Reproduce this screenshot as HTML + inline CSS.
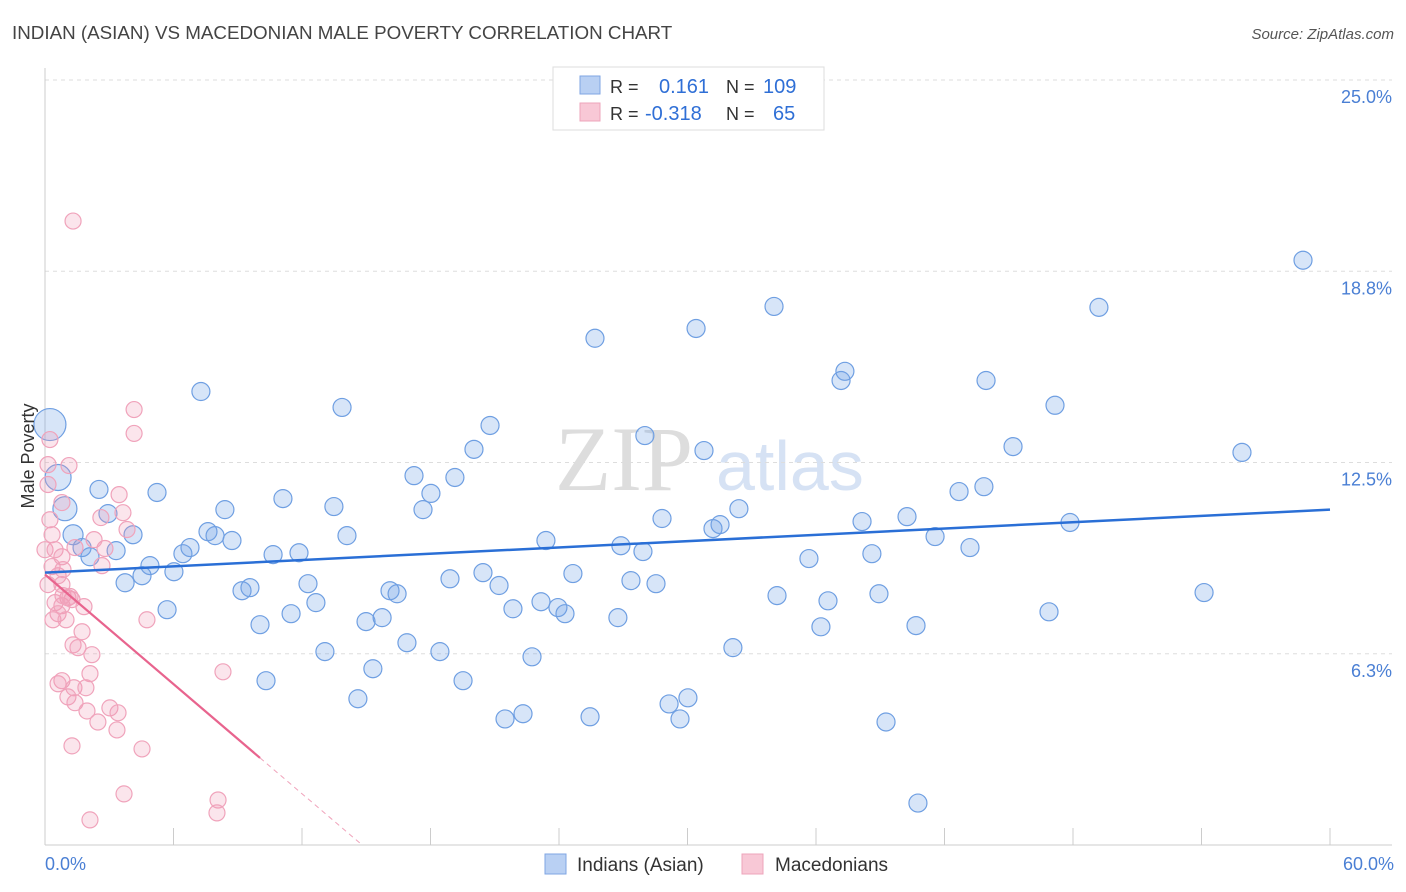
<!DOCTYPE html>
<html><head><meta charset="utf-8"><style>
body{margin:0;background:#fff;font-family:"Liberation Sans",sans-serif;}
svg{display:block}
</style></head><body>
<svg id="chart" width="1406" height="892">
<text x="12" y="39" font-size="18.8" fill="#444">INDIAN (ASIAN) VS MACEDONIAN MALE POVERTY CORRELATION CHART</text>
<text x="1394" y="39" font-size="15" fill="#555" font-style="italic" text-anchor="end">Source: ZipAtlas.com</text>
<g>
<text x="555" y="490" font-size="92" fill="#ddd" font-family="Liberation Serif,serif">ZIP</text>
<text x="716" y="490" font-size="70" fill="#d6e2f4">atlas</text>
</g>
<g id="grid"></g>
<g id="axes"></g>
<g id="points"></g>
<g id="lines"></g>
<text x="34" y="456" font-size="18" fill="#333" text-anchor="middle" transform="rotate(-90 34 456)">Male Poverty</text>
<text x="45" y="870" font-size="18" fill="#4a7fd4">0.0%</text>
<text x="1394" y="870" font-size="18" fill="#4a7fd4" text-anchor="end">60.0%</text>
<g>
<rect x="553" y="67" width="271" height="63" fill="#fff" stroke="#ddd"/>
<rect x="580" y="76" width="20" height="18" fill="#b9d0f3" stroke="#7fa6e3"/>
<rect x="580" y="103" width="20" height="18" fill="#f8c8d6" stroke="#eea4bb"/>
<text x="610" y="93" font-size="18" fill="#333">R = <tspan fill="#2f6fd6" x="659" font-size="20">0.161</tspan><tspan fill="#333" x="726">N =</tspan><tspan fill="#2f6fd6" x="763" font-size="20">109</tspan></text>
<text x="610" y="120" font-size="18" fill="#333">R = <tspan fill="#2f6fd6" x="645" font-size="20">-0.318</tspan><tspan fill="#333" x="726">N =</tspan><tspan fill="#2f6fd6" x="773" font-size="20">65</tspan></text>
</g>
<g>
<rect x="545" y="854" width="21" height="20" fill="#b9d0f3" stroke="#7fa6e3"/>
<text x="577" y="871" font-size="19" fill="#333">Indians (Asian)</text>
<rect x="742" y="854" width="21" height="20" fill="#f8c8d6" stroke="#eea4bb"/>
<text x="775" y="871" font-size="19" fill="#333">Macedonians</text>
</g>
</svg>
<script>
const yTicks=[6.25,12.5,18.75,25];
const yTickLabels=["6.3%","12.5%","18.8%","25.0%"];
const xTicks=[0,6,12,18,24,30,36,42,48,54,60];
const blueX=[0.23,0.61,0.93,1.31,1.73,2.10,2.52,2.94,3.32,3.74,4.11,4.53,4.90,5.23,5.70,6.02,6.44,6.77,7.28,7.61,7.94,8.40,8.73,9.20,9.57,10.04,10.32,10.65,11.11,11.49,11.86,12.28,12.65,13.07,13.49,13.87,14.10,14.61,14.99,15.31,15.74,16.11,16.44,16.90,17.23,17.65,18.02,18.44,18.91,19.14,19.52,20.03,20.45,20.78,21.20,21.48,21.85,22.32,22.74,23.16,23.39,23.95,24.28,24.65,25.45,25.68,26.75,26.89,27.36,27.92,28.01,28.53,28.81,29.14,29.65,30.02,30.40,30.77,31.19,31.52,32.12,32.40,34.04,34.18,35.67,36.23,36.56,37.17,37.35,38.15,38.61,38.94,39.27,40.25,40.67,40.76,41.56,42.68,43.19,43.84,43.94,45.20,46.88,47.16,47.86,49.21,54.12,55.89,58.74];
const blueY=[13.74,12.01,10.99,10.14,9.72,9.42,11.62,10.83,9.62,8.57,10.14,8.80,9.13,11.52,7.69,8.93,9.52,9.72,14.82,10.24,10.11,10.96,9.95,8.31,8.41,7.20,5.37,9.49,11.32,7.56,9.55,8.54,7.92,6.32,11.06,14.30,10.11,4.78,7.30,5.76,7.43,8.31,8.21,6.61,12.07,10.96,11.49,6.32,8.70,12.01,5.37,12.93,8.90,13.71,8.48,4.12,7.72,4.29,6.15,7.95,9.95,7.76,7.56,8.87,4.19,16.56,7.43,9.78,8.64,9.59,13.38,8.54,10.67,4.61,4.12,4.81,16.88,12.89,10.34,10.47,6.45,10.99,17.60,8.15,9.36,7.13,7.98,15.18,15.48,10.57,9.52,8.21,4.02,10.73,7.17,1.37,10.08,11.55,9.72,11.71,15.18,13.02,7.62,14.37,10.54,17.57,8.25,12.83,19.11];
const blueR=[16,13,12,10,9,9];
const pinkX=[1.31,0.23,0.14,1.12,0.14,0.79,0.23,0.33,0,0.47,0.79,0.33,0.61,0.14,0.79,1.07,0.47,0.79,1.26,1.82,0.61,0.37,0.98,1.73,1.31,1.54,2.19,2.10,0.79,0.61,1.35,1.91,1.07,1.40,1.96,2.47,3.03,3.41,3.36,1.26,4.53,3.69,2.10,8.08,8.03,8.31,4.76,4.16,4.16,3.46,3.64,2.61,3.83,2.80,2.66,2.29,0.84,0.84,1.17,1.40];
const pinkY=[20.39,13.25,12.43,12.40,11.78,11.19,10.63,10.14,9.65,9.65,9.42,9.10,8.80,8.51,8.51,8.08,7.92,7.82,8.02,7.79,7.56,7.36,7.36,6.97,6.54,6.45,6.22,5.60,5.37,5.27,5.14,5.14,4.84,4.65,4.38,4.02,4.48,4.32,3.76,3.24,3.14,1.67,0.82,1.47,1.05,5.66,7.36,14.23,13.45,11.45,10.86,10.70,10.31,9.69,9.13,9.98,9.00,8.15,8.12,9.72];
const blueFit=[8.90,10.96];
const pinkFit=[8.84,-0.597];
const pinkSolidEnd=10.04;

const NS="http://www.w3.org/2000/svg";
const sx=v=>45+v/60*1285;
const sy=v=>845-v/25*765;
function mk(tag,attrs,parent){const e=document.createElementNS(NS,tag);for(const k in attrs)e.setAttribute(k,attrs[k]);parent.appendChild(e);return e;}
const grid=document.getElementById('grid'),axes=document.getElementById('axes'),pts=document.getElementById('points'),lines=document.getElementById('lines');
yTicks.forEach((t,i)=>{
 const l=mk('line',{x1:45,x2:1392,y1:sy(t),y2:sy(t),stroke:'#ddd','stroke-dasharray':'4,4'},grid);
 
 
 const tx=mk('text',{x:1392,y:sy(t)+23,'font-size':18,fill:'#4a7fd4','text-anchor':'end'},grid);
 tx.textContent=yTickLabels[i];
 
 
});
const ya=mk('line',{x1:45,x2:45,y1:68,y2:845,stroke:'#ccc'},axes);


const xa=mk('line',{x1:45,x2:1392,y1:845,y2:845,stroke:'#ccc'},axes);


xTicks.forEach(t=>{
 const l=mk('line',{x1:sx(t),x2:sx(t),y1:828,y2:845,stroke:'#ccc'},axes);
 
 
});
blueX.forEach((x,i)=>{
 const c=mk('circle',{cx:sx(x),cy:sy(blueY[i]),r:blueR[i]||9,fill:'rgba(110,160,230,0.28)',stroke:'#6f9fe2','stroke-width':1.2},pts);
 
 
});
pinkX.forEach((x,i)=>{
 const c=mk('circle',{cx:sx(x),cy:sy(pinkY[i]),r:8,fill:'rgba(240,150,180,0.25)',stroke:'#f0a3bb','stroke-width':1.2},pts);
 
 
});
const bl=mk('line',{x1:sx(0),y1:sy(blueFit[0]),x2:sx(60),y2:sy(blueFit[1]),stroke:'#2a6fd6','stroke-width':2.5},lines);


const pEnd=-pinkFit[0]/pinkFit[1];
const pl=mk('line',{x1:sx(0),y1:sy(pinkFit[0]),x2:sx(pinkSolidEnd),y2:sy(pinkFit[0]+pinkFit[1]*pinkSolidEnd),stroke:'#e8648e','stroke-width':2.2},lines);


const pd=mk('line',{x1:sx(pinkSolidEnd),y1:sy(pinkFit[0]+pinkFit[1]*pinkSolidEnd),x2:sx(pEnd),y2:sy(0),stroke:'#f0a3bb','stroke-width':1,'stroke-dasharray':'5,4'},lines);


</script>
</body></html>
